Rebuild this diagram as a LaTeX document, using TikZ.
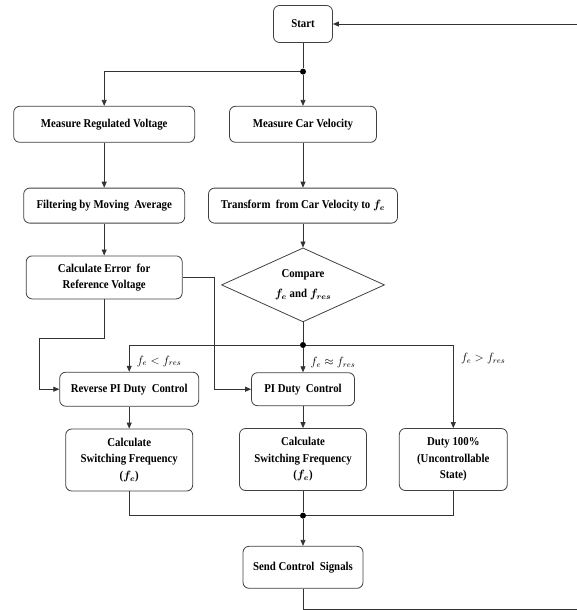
\documentclass[tikz,border=0pt]{standalone}
\usepackage{fontspec}
\setmainfont[FakeStretch=0.9]{Liberation Serif}
\usetikzlibrary{arrows.meta, positioning, shapes.geometric}

\begin{document}
\begin{tikzpicture}[x=1pt, y=1pt,
      box/.style={draw=black!75, line width=0.8pt, rounded corners=6pt, align=center,
                  inner sep=2pt, font=\fontsize{12}{16.5}\selectfont\bfseries\boldmath},
      decision/.style={diamond, draw=black!75, line width=0.8pt, align=center, aspect=2.2,
                  inner sep=0pt, minimum width=163pt, minimum height=74pt,
                  font=\fontsize{12}{20}\selectfont\bfseries\boldmath},
      dot/.style={circle, fill=black, inner sep=0pt, minimum size=6pt},
      lbl/.style={font=\fontsize{12}{14}\selectfont, anchor=west, xshift=4pt},
      arrow/.style={-{Triangle[length=6pt, width=5pt]}, line width=0.8pt, draw=black!80},
      wire/.style={line width=0.8pt, draw=black!80} ]
    \useasboundingbox (0,0) rectangle (576,-610);

    \node[box, minimum width=59pt, minimum height=37pt] (start) at (303,-24) {Start};
    \node[dot, below=25.5pt of start] (j1) {};
    \node[box, minimum width=147pt, minimum height=36pt, below=63pt of start] (carvel) {Measure Car Velocity};
    \node[box, minimum width=181pt, minimum height=36pt, left=34pt of carvel] (regvolt) {Measure Regulated Voltage};
    \node[box, minimum width=161pt, minimum height=35pt, below=45pt of regvolt] (filter) {Filtering by Moving\ \ Average};
    \node[box, minimum width=189pt, minimum height=35pt, below=45pt of carvel] (transf) {Transform\ \ from Car Velocity to $f_e$};
    \node[box, minimum width=156pt, minimum height=43pt, below=32pt of filter] (calcerr) {Calculate Error\ \ for\\ Reference Voltage};
    \node[decision, below=24pt of transf] (compare) {Compare\\ $f_e$ and $f_{res}$};
    \node[dot, below=19.5pt of compare] (j2) {};
    \node[box, minimum width=103pt, minimum height=33pt, below=50pt of compare] (pictrl) {PI Duty\ \ Control};
    \node[box, minimum width=139pt, minimum height=34pt, left=52pt of pictrl] (revpi) {Reverse PI Duty\ \ Control};
    \node[box, minimum width=127pt, minimum height=62pt, below=22pt of revpi] (swfreqa) {Calculate\\ Switching Frequency\\ ($f_e$)};
    \node[box, minimum width=127pt, minimum height=62pt, below=22pt of pictrl] (swfreqb) {Calculate\\ Switching Frequency\\ ($f_e$)};
    \node[box, minimum width=108pt, minimum height=62pt, right=32pt of swfreqb] (duty) {Duty 100\%\\ (Uncontrollable\\ State)};
    \node[dot, below=21.5pt of swfreqb] (j3) {};
    \node[box, minimum width=120pt, minimum height=42pt, below=55pt of swfreqb] (send) {Send Control\ \ Signals};
    \coordinate (loopend) at (577,-609);

    \draw[wire]  (start) -- (j1);
    \draw[arrow] (j1) -- (carvel);
    \draw[arrow] (j1) -| (regvolt.north);
    \draw[arrow] (regvolt) -- (filter);
    \draw[arrow] (filter) -- (calcerr);
    \draw[arrow] (carvel) -- (transf);
    \draw[arrow] (transf) -- (compare);
    \draw[wire]  (compare) -- (j2);
    \draw[arrow] (j2) -- node[lbl, pos=0.6] {$f_e \approx f_{res}$} (pictrl);
    \draw[arrow] (j2) -| node[lbl, pos=0.8] {$f_e < f_{res}$} (revpi.north);
    \draw[arrow] (j2) -| node[lbl, pos=0.58] {$f_e > f_{res}$} (duty.north);
    \draw[arrow] (calcerr.south) -- ++(0,-39) -| ([xshift=-20pt]revpi.west) -- (revpi.west);
    \draw[arrow] (calcerr.east) -| ([xshift=-37pt]pictrl.west) -- (pictrl.west);
    \draw[arrow] (revpi) -- (swfreqa);
    \draw[arrow] (pictrl) -- (swfreqb);
    \draw[wire]  (swfreqa.south) |- (j3);
    \draw[wire]  (swfreqb) -- (j3);
    \draw[wire]  (duty.south) |- (j3);
    \draw[arrow] (j3) -- (send);
    \draw[arrow] (send.south) |- (loopend) |- (start.east);
  \end{tikzpicture}
\end{document}
